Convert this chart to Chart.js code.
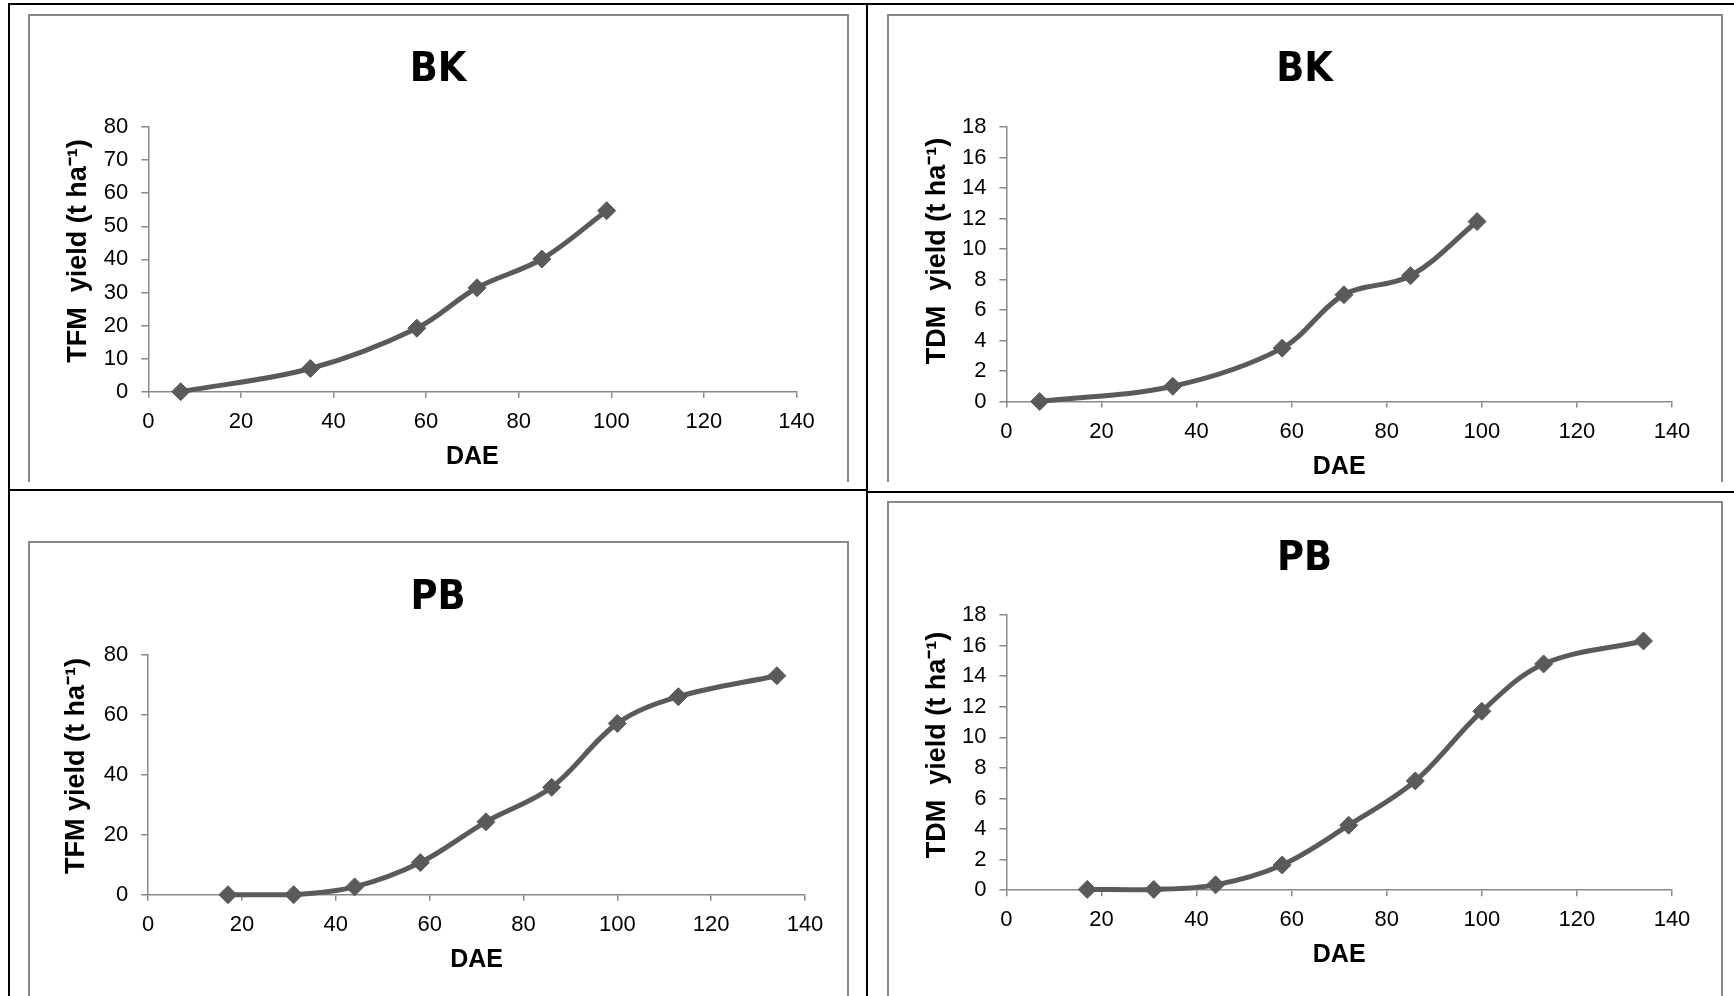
<!DOCTYPE html>
<html lang="en">
<head>
<meta charset="UTF-8" />
<title>BK / PB yield curves</title>
<script src="https://cdn.jsdelivr.net/npm/chart.js"></script>
<style>
  body { margin: 0; background: #fff; }
  #page { position: relative; width: 1734px; height: 996px; overflow: hidden; background: #fff; }
  .rule { position: absolute; background: #000; }
  .frame { position: absolute; box-sizing: border-box; border: 2px solid #898989; border-bottom: none; }
  canvas { position: absolute; }
</style>
</head>
<body>
<div id="page">
  <div class="rule" style="left:8px; top:3px; width:1726px; height:2px"></div>
  <div class="rule" style="left:8px; top:3px; width:2px; height:993px"></div>
  <div class="rule" style="left:866px; top:3px; width:2px; height:993px"></div>
  <div class="rule" style="left:8px; top:489px; width:860px; height:2px"></div>
  <div class="rule" style="left:866px; top:491px; width:868px; height:2px"></div>

  <div class="frame" style="left:28px; top:14px; width:821px; height:468px"></div>
  <div class="frame" style="left:887px; top:14px; width:836px; height:468px"></div>
  <div class="frame" style="left:28px; top:541px; width:821px; height:460px"></div>
  <div class="frame" style="left:887px; top:501px; width:836px; height:500px"></div>

  <canvas id="bkTfmChart" width="818" height="467" style="left:29px; top:15px"></canvas>
  <canvas id="bkTdmChart" width="833" height="467" style="left:888px; top:15px"></canvas>
  <canvas id="pbTfmChart" width="818" height="445" style="left:29px; top:542px"></canvas>
  <canvas id="pbTdmChart" width="833" height="485" style="left:888px; top:502px"></canvas>
</div>

<script>
  // days after emergence and yields
  const bkDays = [7, 35, 58, 71, 85, 99];
  const bkTfm = [0, 7, 19.2, 31.4, 40.1, 54.7];
  const bkTdm = [0, 1, 3.5, 7, 8.25, 11.8];

  const pbDays = [17, 31, 44, 58, 72, 86, 100, 113, 134];
  const pbTfm = [0, 0, 2.6, 10.7, 24.3, 35.8, 57.1, 66, 73];
  const pbTdm = [0.05, 0.05, 0.35, 1.65, 4.25, 7.15, 11.7, 14.8, 16.3];

  const xTicks = [0, 140, 20];           // min, max, step
  const tfmTicks = { bk: [0, 80, 10], pb: [0, 80, 20] };
  const tdmTicks = [0, 18, 2];

  const lineColor = '#5a5a5a';
  const axisColor = '#898989';

  // canvas box and plot area (page px), title centre y, y-title centre (page px)
  const panels = [
    { id: 'bkTfmChart', box: [29, 15, 818, 467], plot: [148.3, 127, 796.5, 391.7], titleY: 70, yTitleAt: [79, 251],
      title: 'BK', yTitle: 'TFM  yield (t ha\u207B\u00B9)', days: bkDays, vals: bkTfm, yt: tfmTicks.bk },
    { id: 'bkTdmChart', box: [888, 15, 833, 467], plot: [1006.4, 127, 1672, 401.5], titleY: 70, yTitleAt: [938, 251],
      title: 'BK', yTitle: 'TDM  yield (t ha\u207B\u00B9)', days: bkDays, vals: bkTdm, yt: tdmTicks },
    { id: 'pbTfmChart', box: [29, 542, 818, 445], plot: [148.2, 654.7, 805, 894.7], titleY: 598, yTitleAt: [77, 766],
      title: 'PB', yTitle: 'TFM yield (t ha\u207B\u00B9)', days: pbDays, vals: pbTfm, yt: tfmTicks.pb },
    { id: 'pbTdmChart', box: [888, 502, 833, 485], plot: [1006.4, 615, 1672, 890.2], titleY: 559, yTitleAt: [938, 745],
      title: 'PB', yTitle: 'TDM  yield (t ha\u207B\u00B9)', days: pbDays, vals: pbTdm, yt: tdmTicks }
  ];

  const tickFont = { family: "'Liberation Sans', Arial, sans-serif", size: 22, lineHeight: 1.2 };
  const axisTitleFont = { family: "'Liberation Sans', Arial, sans-serif", size: 25, weight: 'bold', lineHeight: 1.2 };
  const yTitleFont = "bold 27px 'Liberation Sans', Arial, sans-serif";
  const titleFont = { family: "'Liberation Sans Narrow', 'DejaVu Sans Condensed', Arial, sans-serif", size: 41, weight: 'bold', lineHeight: 1.2 };

  // vertical axis title, drawn where the original figure has it
  const yTitlePlugin = {
    id: 'yTitle',
    afterDraw(chart, args, opts) {
      const ctx = chart.ctx;
      ctx.save();
      ctx.translate(opts.x, opts.y);
      ctx.rotate(-Math.PI / 2);
      ctx.font = yTitleFont;
      ctx.fillStyle = '#000';
      ctx.textAlign = 'center';
      ctx.textBaseline = 'middle';
      ctx.fillText(opts.text, 0, 0);
      ctx.restore();
    }
  };

  panels.forEach(p => {
    const [bx, by, bw, bh] = p.box;
    const [pl, pt, pr, pb] = p.plot;
    const left = pl - bx, top = pt - by, right = pr - bx, bottom = pb - by;
    const xHeight = bh - bottom;
    const titleH = titleFont.size * titleFont.lineHeight;
    const titleTop = (p.titleY - by) - titleH / 2;
    const xTitleH = axisTitleFont.size * axisTitleFont.lineHeight;

    new Chart(document.getElementById(p.id), {
      type: 'scatter',
      data: {
        datasets: [{
          data: p.days.map((d, i) => ({ x: d, y: p.vals[i] })),
          showLine: true,
          borderColor: lineColor,
          borderWidth: 5,
          backgroundColor: lineColor,
          pointStyle: 'rectRot',
          pointRadius: 9,
          pointBorderWidth: 1,
          pointBackgroundColor: lineColor,
          pointBorderColor: lineColor,
          tension: 0.35,
          clip: false
        }]
      },
      plugins: [yTitlePlugin],
      options: {
        responsive: false,
        animation: false,
        layout: { padding: 0 },
        plugins: {
          legend: { display: false },
          tooltip: { enabled: false },
          title: {
            display: true, text: p.title, color: '#000', font: titleFont,
            padding: { top: titleTop, bottom: top - titleTop - titleH }
          },
          yTitle: { text: p.yTitle, x: p.yTitleAt[0] - bx, y: p.yTitleAt[1] - by }
        },
        scales: {
          x: {
            type: 'linear', min: xTicks[0], max: xTicks[1],
            ticks: { stepSize: xTicks[2], color: '#000', font: tickFont, padding: 11, maxRotation: 0 },
            grid: { drawOnChartArea: false, drawTicks: true, tickLength: 6, color: axisColor, lineWidth: 1.5 },
            border: { color: axisColor, width: 1.5 },
            title: { display: true, text: 'DAE', color: '#000', font: axisTitleFont,
                     padding: { top: 0, bottom: xHeight - 65.3 - xTitleH / 2 } },
            afterFit: s => { s.height = xHeight; }
          },
          y: {
            min: p.yt[0], max: p.yt[1],
            ticks: { stepSize: p.yt[2], color: '#000', font: tickFont, padding: 13 },
            grid: { drawOnChartArea: false, drawTicks: true, tickLength: 7, color: axisColor, lineWidth: 1.5 },
            border: { color: axisColor, width: 1.5 },
            afterFit: s => { s.width = left; }
          },
          // empty spacer on the right so the title centres on the whole panel
          spacer: {
            type: 'linear', position: 'right',
            ticks: { display: false }, grid: { display: false }, border: { display: false },
            afterFit: s => { s.width = bw - right; }
          }
        }
      }
    });
  });
</script>
</body>
</html>
